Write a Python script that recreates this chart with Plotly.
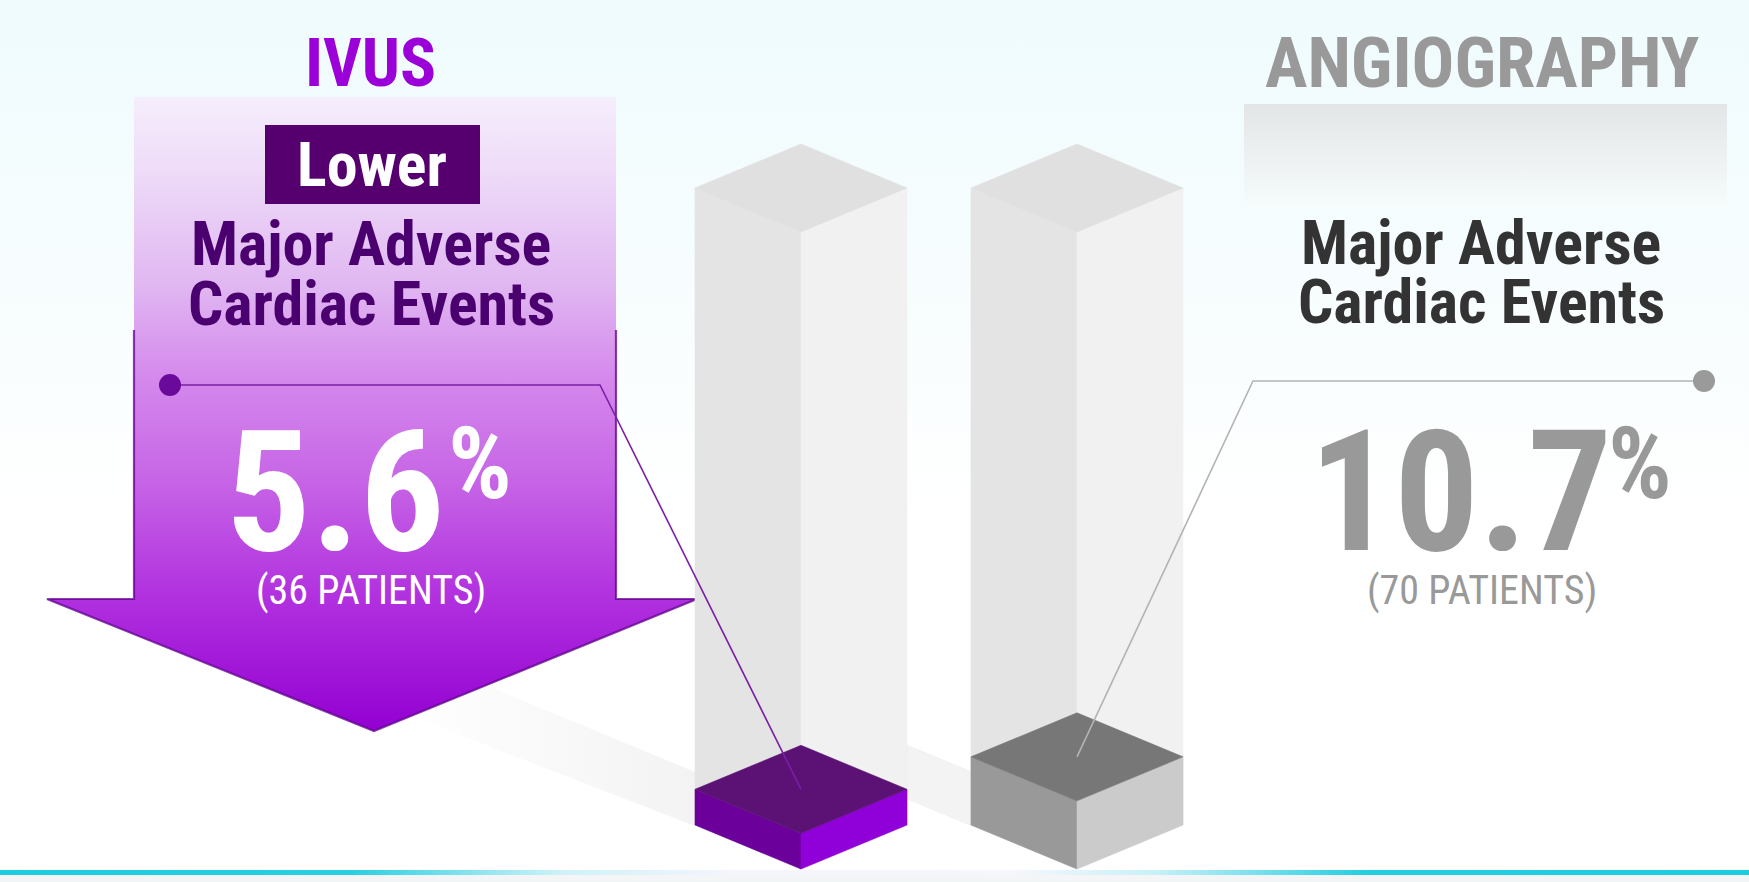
import plotly.graph_objects as go

# ---- data -------------------------------------------------------------
groups = ["IVUS", "ANGIOGRAPHY"]
mace_rate = [5.6, 10.7]          # % of patients with major adverse cardiac events
patients = [36, 70]              # number of patients with an event
full_scale = 100                 # ghost column height (%)
headline = "Major Adverse", "Cardiac Events"

# ---- canvas -----------------------------------------------------------
W, H = 1749, 882

# bar axes: bar i sits at x = i, y is in percent
BAR_X0_PX, BAR_STEP_PX = 801, 276
Y0_PX, Y100_PX = 825, 188
PX_PER_PCT = (Y0_PX - Y100_PX) / 100.0
HALF_W = 106 / BAR_STEP_PX          # iso half width in bar units
DEPTH = 44 / PX_PER_PCT             # iso half depth in percent units

x2_range = [-BAR_X0_PX / BAR_STEP_PX, (W - BAR_X0_PX) / BAR_STEP_PX]
y2_range = [-(H - Y0_PX) / PX_PER_PCT, full_scale + Y100_PX / PX_PER_PCT]


def to_bar(px, py):
    """Convert a layout pixel position into bar-axis coordinates."""
    return ((px - BAR_X0_PX) / BAR_STEP_PX, (Y0_PX - py) / PX_PER_PCT)


NARROW = "Roboto Condensed, DejaVu Sans Condensed, Liberation Sans Narrow, Roboto, sans-serif"

PURPLE = "#9b00d8"
DARK_PURPLE = "#4b0070"
GREY = "#999999"

fig = go.Figure()


def poly(xs, ys, color=None, grad=None, axes=("x", "y"), line=None, opacity=1.0):
    kw = dict(x=xs, y=ys, mode="lines", fill="toself", hoverinfo="skip",
              showlegend=False, xaxis=axes[0], yaxis=axes[1], opacity=opacity)
    if grad is not None:
        kw["fillgradient"] = grad
        kw["fillcolor"] = "rgba(0,0,0,0)"
    else:
        kw["fillcolor"] = color
    if line is None:
        kw["line"] = dict(width=0.6, color=color if color else "rgba(0,0,0,0)")
    else:
        kw["line"] = line
    fig.add_trace(go.Scatter(**kw))


# ---- background -------------------------------------------------------
poly([0, W, W, 0, 0], [0, 0, H, H, 0],
     grad=dict(type="vertical", start=0, stop=520,
               colorscale=[[0, "#effbfd"], [0.6, "#f8fdfe"], [1, "#ffffff"]]))

# grey header plate behind the right-hand headline
poly([1244, 1727, 1727, 1244, 1244], [104, 104, 206, 206, 104],
     grad=dict(type="vertical", start=104, stop=206,
               colorscale=[[0, "#e3e6e6"], [1, "#f6fbfb"]]))

# floor shadows cast by the columns
poly([695, 695, 420, 400, 695], [826, 772, 658, 712, 826],
     grad=dict(type="horizontal", start=400, stop=695,
               colorscale=[[0, "rgba(215,215,215,0)"], [1, "rgba(215,215,215,0.3)"]]))
poly([972, 972, 907, 907, 972], [826, 772, 745, 799, 826], color="rgba(225,225,225,0.4)")

# ---- big downward arrow ----------------------------------------------
ax = [134, 616, 616, 697, 374, 47, 134, 134]
ay = [97, 97, 599, 599, 731, 599, 599, 97]
poly(ax, ay,
     grad=dict(type="vertical", start=97, stop=731,
               colorscale=[[0, "#f5eefc"], [0.12, "#eedbf8"], [0.3, "#e0b6f1"],
                           [0.45, "#d487ec"], [0.6, "#c766e6"], [0.78, "#b233df"],
                           [1, "#9300d2"]]),
     line=dict(width=0))
# darker rim along the lower part of the arrow
fig.add_trace(go.Scatter(x=[134, 134, 47, 374, 697, 616, 616],
                         y=[330, 599, 599, 731, 599, 599, 330],
                         mode="lines", line=dict(color="rgba(95,0,140,0.75)", width=2.2),
                         hoverinfo="skip", showlegend=False))

# ---- 3D columns on the bar axes --------------------------------------
def prism(i, v0, v1, left, right, top, opacity=1.0):
    L, C, R = i - HALF_W, i, i + HALF_W
    ax2 = ("x2", "y2")
    poly([L, C, C, L, L], [v0, v0 - DEPTH, v1 - DEPTH, v1, v0], left, axes=ax2, opacity=opacity)
    poly([C, R, R, C, C], [v0 - DEPTH, v0, v1, v1 - DEPTH, v0 - DEPTH], right, axes=ax2, opacity=opacity)
    poly([L, C, R, C, L], [v1, v1 - DEPTH, v1, v1 + DEPTH, v1], top, axes=ax2, opacity=opacity)


for i in range(len(groups)):
    prism(i, 0, full_scale, "#e4e4e4", "#f1f1f1", "#e0e0e0")

block_colors = [("#6b009b", "#9000d8", "#5c1275"),
                ("#999999", "#cbcbcb", "#777777")]
for i, v in enumerate(mace_rate):
    prism(i, 0, v, *block_colors[i])

# leader lines from the value dots to the top of each block
dots_px = [(170, 385, 600), (1704, 381, 1253)]
lead_colors = ["#7a1fa6", "#b3b3b3"]
dot_colors = ["#6a0a9a", "#9a9a9a"]
for i, v in enumerate(mace_rate):
    dx, dy, cx = dots_px[i]
    p0 = to_bar(dx, dy)
    p1 = to_bar(cx, dy)
    fig.add_trace(go.Scatter(x=[p0[0], p1[0], i], y=[p0[1], p1[1], v],
                             mode="lines", line=dict(color=lead_colors[i], width=1.6),
                             xaxis="x2", yaxis="y2", hoverinfo="skip", showlegend=False))
    fig.add_trace(go.Scatter(x=[p0[0]], y=[p0[1]], mode="markers",
                             marker=dict(size=22, color=dot_colors[i], line=dict(width=0)),
                             xaxis="x2", yaxis="y2", hoverinfo="skip", showlegend=False))

# bottom rule: cyan at both ends fading out in the middle
poly([0, W, W, 0, 0], [875, 875, 882, 882, 875], color="#f3f5f7")
poly([0, W, W, 0, 0], [870, 870, 875, 875, 870],
     grad=dict(type="horizontal", start=0, stop=W,
               colorscale=[[0, "#1ccde0"], [0.2, "#28cfe1"], [0.32, "#cdf2f8"],
                           [0.42, "#f6f5fd"], [0.58, "#f6f6fd"], [0.66, "#c8f1f8"],
                           [0.78, "#25cee1"], [1, "#1ccde0"]]))

# ---- "Lower" badge ----------------------------------------------------
fig.add_shape(type="rect", x0=265, x1=480, y0=125, y1=204, xref="x", yref="y",
              fillcolor="#560070", line=dict(width=0), layer="above")

# ---- text -------------------------------------------------------------
def label(x, y, text, size, color, bold=True, xanchor="center"):
    fig.add_annotation(x=x, y=y, xref="x", yref="y", text=text, showarrow=False,
                       xanchor=xanchor, yanchor="middle",
                       font=dict(family=NARROW, size=size, color=color,
                                 weight="bold" if bold else "normal"))


label(370, 63, groups[0], 67, PURPLE)
label(1482, 62, groups[1], 71, GREY)
label(372, 164, "Lower", 62, "#ffffff")
label(371, 243, headline[0], 62, DARK_PURPLE)
label(371, 303, headline[1], 62, DARK_PURPLE)
label(1481, 242, headline[0], 62, "#333333")
label(1481, 301, headline[1], 62, "#333333")

# (right edge of the number, left edge of the % sign, centre of the patient count)
value_pos = [(447, 446, 371), (1615, 1606, 1482)]
value_colors = ["#ffffff", GREY]
for i, v in enumerate(mace_rate):
    right_edge, pct_left, centre = value_pos[i]
    label(right_edge, 492, f"{v:.1f}", 168, value_colors[i], xanchor="right")
    label(pct_left, 463, "%", 100, value_colors[i], xanchor="left")
    label(centre, 590, f"({patients[i]} PATIENTS)", 40, value_colors[i], bold=False)

# ---- layout -----------------------------------------------------------
hidden = dict(visible=False, fixedrange=True, showgrid=False, zeroline=False)
fig.update_layout(
    width=W, height=H, margin=dict(l=0, r=0, t=0, b=0),
    paper_bgcolor="#ffffff", plot_bgcolor="#ffffff", showlegend=False,
    xaxis=dict(range=[0, W], **hidden),
    yaxis=dict(range=[H, 0], **hidden),
    xaxis2=dict(range=x2_range, overlaying="x", **hidden),
    yaxis2=dict(range=y2_range, overlaying="y", **hidden),
)

fig.write_html("out.html")
